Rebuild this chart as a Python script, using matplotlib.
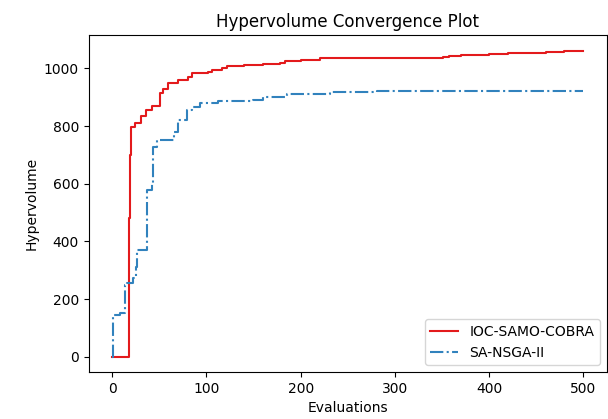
import matplotlib
matplotlib.use("Agg")
import matplotlib.pyplot as plt

# evaluations / hypervolume
ioc_evals = [0, 17, 18, 19, 20, 24, 30, 36, 42, 51, 54, 59, 70, 80, 85, 102, 106,
             116, 122, 130, 140, 150, 160, 170, 178, 183, 200, 220, 351, 358, 370,
             385, 400, 420, 440, 460, 480, 500]
ioc_hv = [0, 0, 480, 700, 796, 810, 834, 855, 868, 915, 927, 948, 958, 969, 983, 986, 996,
          1003, 1007, 1009, 1011, 1013, 1015, 1016, 1018, 1024, 1030, 1035, 1038, 1044, 1046,
          1048, 1051, 1053, 1055, 1057, 1059, 1062]

sa_evals = [0, 1, 8, 13, 16, 22, 25, 26, 35, 37, 42, 43, 47, 61, 65, 70, 79, 85, 93, 112,
            149, 160, 178, 185, 231, 281, 400, 500]
sa_hv = [0, 145, 152, 250, 256, 273, 310, 370, 370, 578, 602, 727, 751, 751, 780, 820, 855,
         865, 879, 886, 889, 900, 900, 910, 917, 920, 922, 922]

fig = plt.figure(figsize=(6.08, 4.19), dpi=100)
ax = fig.add_axes([0.146, 0.112, 0.852, 0.804])

ax.plot(ioc_evals, ioc_hv, drawstyle="steps-post", color="#e31a1c", lw=1.5,
        label="IOC-SAMO-COBRA")
ax.plot(sa_evals, sa_hv, drawstyle="steps-post", color="#3182bd", lw=1.5,
        ls="-.", label="SA-NSGA-II")

ax.set_title("Hypervolume Convergence Plot")
ax.set_xlabel("Evaluations")
ax.set_ylabel("Hypervolume")
ax.set_xticks([0, 100, 200, 300, 400, 500])
ax.legend(loc="lower right")

fig.savefig("out.png", dpi=100)
